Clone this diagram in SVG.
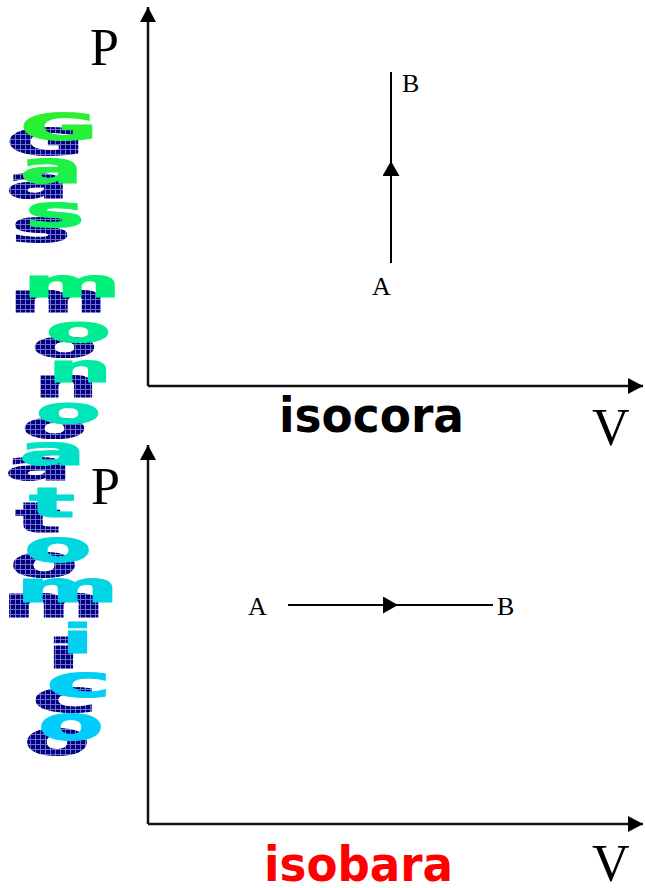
<svg xmlns="http://www.w3.org/2000/svg" width="645" height="888" viewBox="0 0 645 888">
<defs>
<style>
.ax{stroke:#111;stroke-width:2.5;fill:none}
.ln{stroke:#000;stroke-width:2;fill:none}
.serif{font-family:"Liberation Serif","Times New Roman",serif;fill:#000}
.big{font-size:52px}
.pt{font-size:26px}
.lab{font-family:"DejaVu Sans","Liberation Sans",sans-serif;font-weight:bold;font-size:48px}
.wa{font-family:"DejaVu Sans","Liberation Sans",sans-serif;font-weight:bold}
.sh{fill:url(#chk);stroke:url(#chk);stroke-width:1}
.fr{fill:url(#grad);stroke:url(#grad);stroke-width:1}
</style>
<marker id="ah" markerUnits="userSpaceOnUse" markerWidth="16" markerHeight="16" refX="15" refY="8" orient="auto">
<path d="M0,0 L15,8 L0,16 z" fill="#000"/>
</marker>
<marker id="mh" markerUnits="userSpaceOnUse" markerWidth="16" markerHeight="18" refX="14" refY="8.5" orient="auto">
<path d="M0,0 L15,8.5 L0,17 z" fill="#000"/>
</marker>
<pattern id="chk" patternUnits="userSpaceOnUse" width="5" height="5">
<rect width="5" height="5" fill="#000080"/>
<rect x="4" width="1" height="5" fill="#7070c8"/>
<rect y="4" width="5" height="1" fill="#7070c8"/>
</pattern>
<linearGradient id="grad" gradientUnits="userSpaceOnUse" x1="0" y1="110" x2="0" y2="740">
<stop offset="0" stop-color="#2ef02e"/>
<stop offset="0.28" stop-color="#00f07a"/>
<stop offset="0.5" stop-color="#00e4c0"/>
<stop offset="0.7" stop-color="#00d6e0"/>
<stop offset="1" stop-color="#00ccff"/>
</linearGradient>
</defs>

<g id="connectors">
<line class="ax" x1="148" y1="386" x2="148" y2="7" marker-end="url(#ah)"/>
<line class="ax" x1="148" y1="386" x2="643" y2="386" marker-end="url(#ah)"/>
<line class="ax" x1="148" y1="824" x2="148" y2="445" marker-end="url(#ah)"/>
<line class="ax" x1="148" y1="824" x2="643" y2="824" marker-end="url(#ah)"/>
<polyline class="ln" points="391,263 391,162 391,72" marker-mid="url(#mh)"/>
<polyline class="ln" points="288,605 397,605 493,605" marker-mid="url(#mh)"/>
</g>

<g id="plot-isocora">
<text class="serif big" x="90" y="65">P</text>
<text class="serif big" x="592" y="445">V</text>
<text class="serif pt" x="402" y="92">B</text>
<text class="serif pt" x="372" y="295">A</text>
<text class="lab" x="279" y="432" fill="#000" textLength="185" lengthAdjust="spacingAndGlyphs">isocora</text>
</g>

<g id="plot-isobara">
<text class="serif big" x="91" y="504">P</text>
<text class="serif big" x="592" y="881">V</text>
<text class="serif pt" x="248" y="615">A</text>
<text class="serif pt" x="497" y="615">B</text>
<text class="lab" x="264" y="881" fill="#ff0000" textLength="189" lengthAdjust="spacingAndGlyphs">isobara</text>
</g>

<g id="title-shadow" class="wa sh" transform="translate(-14,15)">
<text x="20" y="140" font-size="38" textLength="78" lengthAdjust="spacingAndGlyphs">G</text>
<text x="20" y="183" font-size="44" textLength="63" lengthAdjust="spacingAndGlyphs">a</text>
<text x="25" y="227" font-size="44" textLength="60" lengthAdjust="spacingAndGlyphs">s</text>
<text x="23" y="297" font-size="39" textLength="98" lengthAdjust="spacingAndGlyphs">m</text>
<text x="46" y="342" font-size="36" textLength="65" lengthAdjust="spacingAndGlyphs">o</text>
<text x="48" y="382" font-size="39" textLength="64" lengthAdjust="spacingAndGlyphs">n</text>
<text x="36" y="423" font-size="36" textLength="65" lengthAdjust="spacingAndGlyphs">o</text>
<text x="19" y="465" font-size="41" textLength="67" lengthAdjust="spacingAndGlyphs">a</text>
<text x="29" y="517" font-size="40" textLength="46" lengthAdjust="spacingAndGlyphs">t</text>
<text x="24" y="562" font-size="44" textLength="68" lengthAdjust="spacingAndGlyphs">o</text>
<text x="16" y="602" font-size="43" textLength="103" lengthAdjust="spacingAndGlyphs">m</text>
<text x="61" y="653" font-size="41" textLength="33" lengthAdjust="spacingAndGlyphs">i</text>
<text x="46" y="697" font-size="44" textLength="66" lengthAdjust="spacingAndGlyphs">c</text>
<text x="38" y="740" font-size="48" textLength="66" lengthAdjust="spacingAndGlyphs">o</text>
</g>

<g id="title-front" class="wa fr">
<text x="20" y="140" font-size="38" textLength="78" lengthAdjust="spacingAndGlyphs">G</text>
<text x="20" y="183" font-size="44" textLength="63" lengthAdjust="spacingAndGlyphs">a</text>
<text x="25" y="227" font-size="44" textLength="60" lengthAdjust="spacingAndGlyphs">s</text>
<text x="23" y="297" font-size="39" textLength="98" lengthAdjust="spacingAndGlyphs">m</text>
<text x="46" y="342" font-size="36" textLength="65" lengthAdjust="spacingAndGlyphs">o</text>
<text x="48" y="382" font-size="39" textLength="64" lengthAdjust="spacingAndGlyphs">n</text>
<text x="36" y="423" font-size="36" textLength="65" lengthAdjust="spacingAndGlyphs">o</text>
<text x="19" y="465" font-size="41" textLength="67" lengthAdjust="spacingAndGlyphs">a</text>
<text x="29" y="517" font-size="40" textLength="46" lengthAdjust="spacingAndGlyphs">t</text>
<text x="24" y="562" font-size="44" textLength="68" lengthAdjust="spacingAndGlyphs">o</text>
<text x="16" y="602" font-size="43" textLength="103" lengthAdjust="spacingAndGlyphs">m</text>
<text x="61" y="653" font-size="41" textLength="33" lengthAdjust="spacingAndGlyphs">i</text>
<text x="46" y="697" font-size="44" textLength="66" lengthAdjust="spacingAndGlyphs">c</text>
<text x="38" y="740" font-size="48" textLength="66" lengthAdjust="spacingAndGlyphs">o</text>
</g>
</svg>
